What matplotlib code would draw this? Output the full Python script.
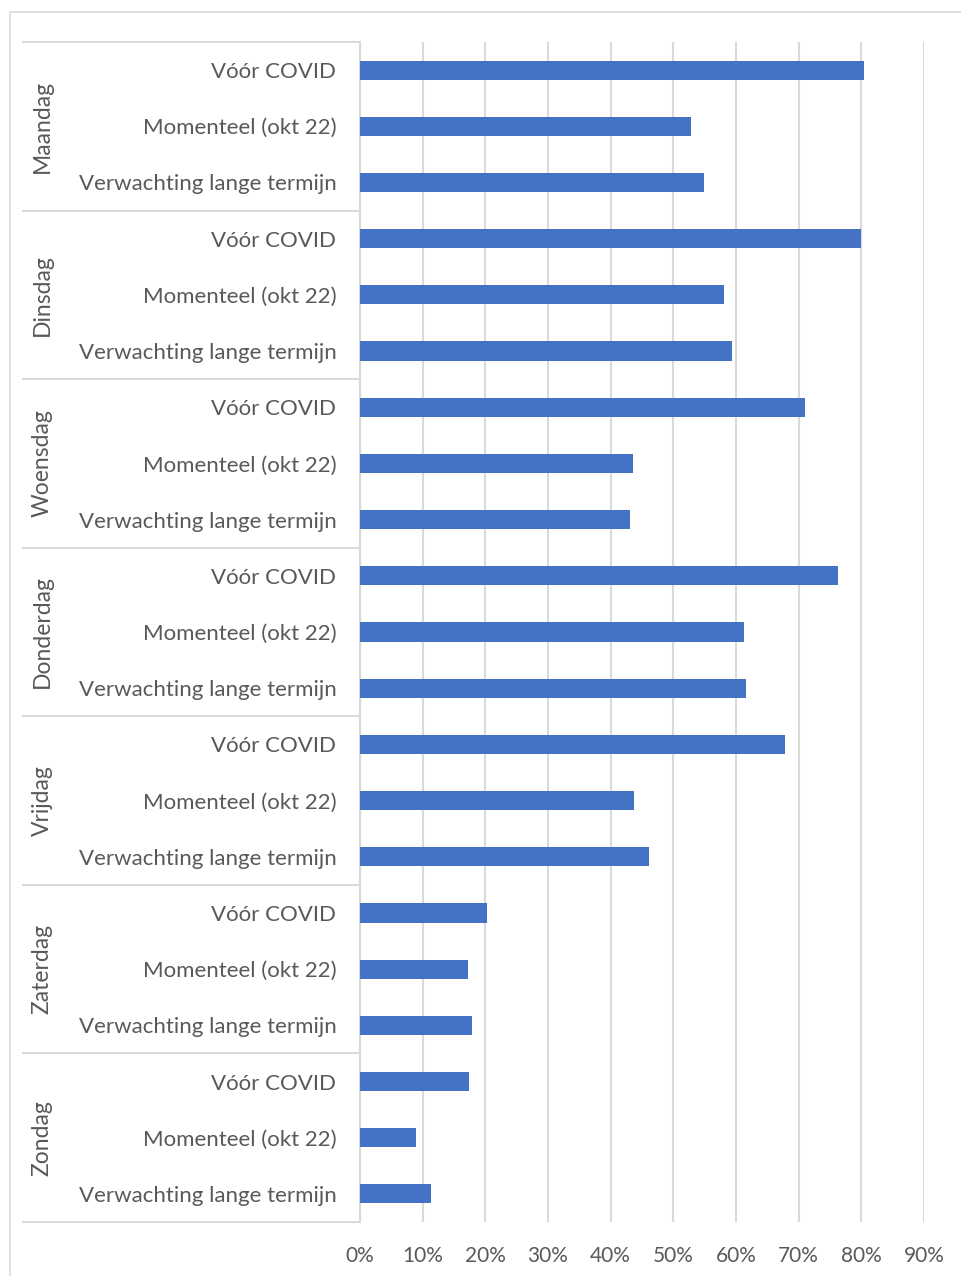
"""
Werkdagen op kantoor: vóór COVID, nu en verwachting
"""

import matplotlib.pyplot as plt
import matplotlib.transforms as mtransforms
from matplotlib.patches import Rectangle
import numpy as np

dagen = ["Maandag", "Dinsdag", "Woensdag", "Donderdag", "Vrijdag", "Zaterdag", "Zondag"]
reeksen = ["Vóór COVID", "Momenteel (okt 22)", "Verwachting lange termijn"]

voor_covid = [80.4, 79.9, 71.0, 76.2, 67.8, 20.3, 17.4]
momenteel = [52.8, 58.1, 43.5, 61.2, 43.7, 17.2, 8.9]
verwachting = [54.9, 59.3, 43.1, 61.6, 46.1, 17.9, 11.3]

x_ticks = [0, 10, 20, 30, 40, 50, 60, 70, 80, 90]

plt.rcParams["font.family"] = ["Lato", "DejaVu Sans"]
tekst_kleur = "#595959"
lijn_kleur = "#d9d9d9"
balk_kleur = "#4472c4"

W, H = 961, 1276
fig = plt.figure(figsize=(W / 100, H / 100), dpi=100)

# rand om de grafiek
fig.add_artist(Rectangle((10 / W, -0.1), 1.2, 1 - 12 / H + 0.1, transform=fig.transFigure,
                         fill=False, edgecolor=lijn_kleur, linewidth=1.2))

ax = fig.add_axes([360 / W, 1 - 1222 / H, (924 - 360) / W, (1222 - 42) / H])

waarden = np.array([voor_covid, momenteel, verwachting]).T.flatten() / 100
labels = reeksen * len(dagen)
y = np.arange(len(waarden))

ax.barh(y, waarden, height=0.34, color=balk_kleur, zorder=3)
ax.set_xlim(0, 0.9)
ax.set_ylim(len(waarden) - 0.5, -0.5)

ax.set_xticks([t / 100 for t in x_ticks])
ax.set_xticklabels([f"{t}%" for t in x_ticks], fontsize=15, color=tekst_kleur)
ax.set_yticks(y)
ax.set_yticklabels(labels, fontsize=16, color=tekst_kleur)
ax.tick_params(axis="both", length=0)
ax.tick_params(axis="y", pad=17)
ax.tick_params(axis="x", pad=17)
ax.grid(axis="x", color=lijn_kleur, linewidth=1.5, zorder=0)
for s in ["top", "right", "bottom"]:
    ax.spines[s].set_visible(False)
ax.spines["left"].set_color(lijn_kleur)
ax.spines["left"].set_linewidth(1.5)

# groepslijnen en daglabels
trans = mtransforms.blended_transform_factory(ax.transAxes, ax.transData)
x_links = (23 - 360) / (924 - 360)
for i, dag in enumerate(dagen):
    grens = i * 3 - 0.5
    ax.plot([x_links, 0], [grens, grens], transform=trans, color=lijn_kleur,
            linewidth=1.5, clip_on=False)
    ax.text((42 - 360) / (924 - 360), i * 3 + 1, dag, transform=trans, rotation=90,
            ha="center", va="center", fontsize=16.5, color=tekst_kleur)
ax.plot([x_links, 0], [len(waarden) - 0.5] * 2, transform=trans, color=lijn_kleur,
        linewidth=1.5, clip_on=False)

fig.savefig("out.png", dpi=100)
